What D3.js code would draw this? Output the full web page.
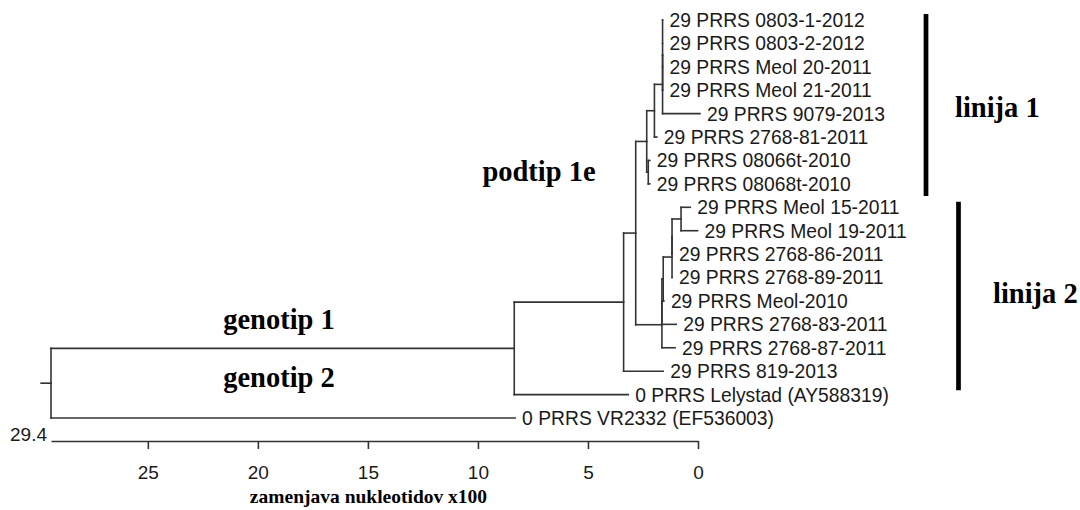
<!DOCTYPE html>
<html>
<head>
<meta charset="utf-8">
<script src="https://cdn.jsdelivr.net/npm/d3@7"></script>
<style>
  body { margin: 0; background: #fff; }
  svg text { font-family: "Liberation Sans", Arial, sans-serif; fill: #1a1a1a; }
  svg text.big { font-family: "Liberation Serif", "Times New Roman", serif; font-weight: bold; fill: #000; }
</style>
</head>
<body>
<svg id="chart" width="1080" height="510"></svg>
<script>
// axis: nucleotide substitutions x100, read from root (29.4) to 0
var axisMax = 29.4;
var tickValues = [25, 20, 15, 10, 5, 0];
var rootStub = 0.45;

// tree as [node, parent, branch length], children listed top to bottom
var edges = [
  ["root", null, 0],
  ["g1", "root", 21.05],
  ["a", "g1", 4.97],
  ["b", "a", 0.55],
  ["s", "b", 0.5],
  ["r", "s", 0.35],
  ["p", "r", 0.37],
  ["q", "p", 0],
  ["29 PRRS 0803-1-2012", "q", 0],
  ["29 PRRS 0803-2-2012", "q", 0],
  ["29 PRRS Meol 20-2011", "q", 0],
  ["29 PRRS Meol 21-2011", "q", 0],
  ["29 PRRS 9079-2013", "p", 1.7],
  ["29 PRRS 2768-81-2011", "r", 0.11],
  ["t", "s", 0.07],
  ["29 PRRS 08066t-2010", "t", 0.07],
  ["29 PRRS 08068t-2010", "t", 0.07],
  ["f", "b", 1.19],
  ["f2", "f", 0],
  ["g", "f2", 0.06],
  ["c", "g", 0.4],
  ["c2", "c", 0],
  ["d", "c2", 0.41],
  ["29 PRRS Meol 15-2011", "d", 0.42],
  ["29 PRRS Meol 19-2011", "d", 0.75],
  ["29 PRRS 2768-86-2011", "c2", 0],
  ["29 PRRS 2768-89-2011", "c", 0],
  ["29 PRRS Meol-2010", "g", 0.03],
  ["29 PRRS 2768-83-2011", "f2", 0.65],
  ["29 PRRS 2768-87-2011", "f", 0.6],
  ["29 PRRS 819-2013", "a", 1.8],
  ["0 PRRS Lelystad (AY588319)", "g1", 5.18],
  ["0 PRRS VR2332 (EF536003)", "root", 21.09]
];

// lineage bars, in leaf rows
var lineages = [
  ["linija 1", -0.26, 7.52],
  ["linija 2", 7.76, 15.81]
];

var svg = d3.select("#chart");

var x = d3.scaleLinear().domain([axisMax, 0]).range([51, 698]);
var y = d3.scaleLinear().domain([0, 17]).range([20, 418]);

var root = d3.stratify()
    .id(function(d) { return d[0]; })
    .parentId(function(d) { return d[1]; })(edges);

root.eachBefore(function(n) { n.dist = n.parent ? n.parent.dist + n.data[2] : 0; });
root.leaves().forEach(function(n, i) { n.py = y(i); });
root.eachAfter(function(n) {
  if (n.children) n.py = (n.children[0].py + n.children[n.children.length - 1].py) / 2;
});
root.each(function(n) { n.px = x(axisMax - n.dist); });

var tree = svg.append("g")
    .attr("stroke", "#333")
    .attr("stroke-width", 1.6)
    .attr("stroke-linecap", "square")
    .attr("fill", "none");

// horizontal branches
tree.selectAll("line.h")
  .data(root.descendants().filter(function(n) { return n.parent; }))
  .enter().append("line")
    .attr("class", "h")
    .attr("x1", function(n) { return n.parent.px; })
    .attr("x2", function(n) { return n.px; })
    .attr("y1", function(n) { return n.py; })
    .attr("y2", function(n) { return n.py; });

// vertical connectors
tree.selectAll("line.v")
  .data(root.descendants().filter(function(n) { return n.children; }))
  .enter().append("line")
    .attr("class", "v")
    .attr("x1", function(n) { return n.px; })
    .attr("x2", function(n) { return n.px; })
    .attr("y1", function(n) { return n.children[0].py; })
    .attr("y2", function(n) { return n.children[n.children.length - 1].py; });

tree.append("line")
    .attr("x1", x(axisMax + rootStub))
    .attr("x2", root.px)
    .attr("y1", root.py)
    .attr("y2", root.py);

svg.append("g").selectAll("text")
  .data(root.leaves())
  .enter().append("text")
    .attr("x", function(n) { return n.px + 7; })
    .attr("y", function(n) { return n.py; })
    .attr("dy", "0.36em")
    .style("font-size", "19.3px")
    .text(function(n) { return n.id; });

// scale bar
var axis = svg.append("g")
    .attr("transform", "translate(0,441)")
    .call(d3.axisBottom(x).tickValues(tickValues).tickSize(8).tickSizeOuter(0).tickPadding(17));
axis.selectAll("path, line").attr("stroke", "#333").attr("stroke-width", 1.6);
axis.selectAll("text")
    .style("font-family", '"Liberation Sans", Arial, sans-serif')
    .style("font-size", "19px")
    .attr("fill", "#1a1a1a");

svg.append("text")
    .attr("x", x(axisMax) - 4)
    .attr("y", 441)
    .attr("text-anchor", "end")
    .style("font-size", "19px")
    .text(axisMax);

svg.append("text")
    .attr("class", "big")
    .attr("x", (x(axisMax) + x(0)) / 2 - 6)
    .attr("y", 503)
    .attr("text-anchor", "middle")
    .style("font-size", "19.5px")
    .text("zamenjava nukleotidov x100");

// lineage bars
var barX = [926, 958.5];
svg.append("g").selectAll("line")
  .data(lineages)
  .enter().append("line")
    .attr("x1", function(d, i) { return barX[i]; })
    .attr("x2", function(d, i) { return barX[i]; })
    .attr("y1", function(d) { return y(d[1]); })
    .attr("y2", function(d) { return y(d[2]); })
    .attr("stroke", "#000")
    .attr("stroke-width", 4.7);

var notes = [
  ["linija 1", 955, 117, "start"],
  ["linija 2", 993, 303, "start"],
  ["podtip 1e", 539, 181, "middle"],
  ["genotip 1", 279, 329, "middle"],
  ["genotip 2", 279, 387, "middle"]
];
svg.append("g").selectAll("text")
  .data(notes)
  .enter().append("text")
    .attr("class", "big")
    .attr("x", function(d) { return d[1]; })
    .attr("y", function(d) { return d[2]; })
    .attr("text-anchor", function(d) { return d[3]; })
    .style("font-size", "28.5px")
    .text(function(d) { return d[0]; });
</script>
</body>
</html>
